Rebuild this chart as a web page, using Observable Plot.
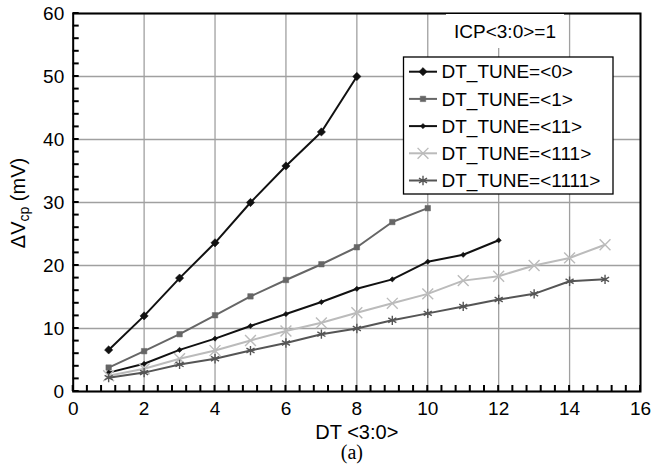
<!DOCTYPE html>
<html><head><meta charset="utf-8">
<script src="https://cdn.jsdelivr.net/npm/d3@7"></script>
<script src="https://cdn.jsdelivr.net/npm/@observablehq/plot@0.6"></script>
<style>
body{margin:0;background:#fff;}
#chart{width:652px;height:472px;}
#chart svg{font-family:'Liberation Sans', Arial, sans-serif;}
</style></head><body><div id="chart"></div>
<script>
// ---- data ----
const dtCodes = [1,2,3,4,5,6,7,8,9,10,11,12,13,14,15];
const seriesNames = ["DT_TUNE=<0>","DT_TUNE=<1>","DT_TUNE=<11>","DT_TUNE=<111>","DT_TUNE=<1111>"];
const tune0    = [6.6,12.0,18.0,23.6,30.0,35.8,41.2,50.0];
const tune1    = [3.8,6.4,9.1,12.1,15.1,17.7,20.2,22.9,26.9,29.1];
const tune11   = [3.0,4.4,6.6,8.4,10.4,12.3,14.2,16.3,17.8,20.6,21.7,24.0];
const tune111  = [2.5,3.6,5.2,6.5,8.1,9.6,10.9,12.5,14.0,15.5,17.6,18.3,20.0,21.2,23.3];
const tune1111 = [2.2,3.0,4.3,5.2,6.5,7.7,9.1,10.0,11.3,12.4,13.5,14.6,15.5,17.5,17.8];
const xTicks = [0,2,4,6,8,10,12,14,16];
const yTicks = [0,10,20,30,40,50,60];
const xMinor = d3.range(0, 41).map(i => i * 0.4);
const yMinor = d3.range(0, 31).map(i => i * 2);
const xLabel = "DT <3:0>";
const caption = "(a)";
const annot = "ICP<3:0>=1";

// ---- styles ----
const styles = [
  {color:"#111", symbol:"square", rotate:45, r:3.3, fill:true},
  {color:"#666", symbol:"square", rotate:0,  r:3.1, fill:true},
  {color:"#111", symbol:"square", rotate:45, r:2.1, fill:true},
  {color:"#bbb", symbol:"times",  rotate:0,  r:5.0, fill:false},
  {color:"#555", symbol:"asterisk", rotate:0, r:4.4, fill:false}
];
const allSeries = [tune0, tune1, tune11, tune111, tune1111];
const table = allSeries.map((vals, s) => vals.map((v, i) => ({x: dtCodes[i], y: v, s})));

const W = 652, H = 472, mL = 72.7, mR = 12, mT = 13, mB = 81;
const font = "'Liberation Sans', Arial, sans-serif";
const tickLen = 6; // px

const marks = [
  Plot.gridX(xTicks, {stroke:"#a0a0a0", strokeOpacity:1, strokeWidth:1.3}),
  Plot.gridY(yTicks, {stroke:"#a0a0a0", strokeOpacity:1, strokeWidth:1.3}),
  Plot.frame({stroke:"#000", strokeWidth:2}),
];
table.forEach((rows, s) => {
  const st = styles[s];
  marks.push(Plot.line(rows, {x:"x", y:"y", stroke: st.color, strokeWidth: 2}));
  marks.push(Plot.dot(rows, {x:"x", y:"y", symbol: st.symbol, r: st.r, rotate: st.rotate,
    fill: st.fill ? st.color : "none", stroke: st.color, strokeWidth: st.fill ? 0.5 : 1.4}));
});
marks.push(
  Plot.axisX(xTicks, {tickSize:0, tickPadding:10, fontSize:19, label:null, fill:"#000"}),
  Plot.axisY(yTicks, {tickSize:0, tickPadding:9, fontSize:19, label:null, fill:"#000"}),
  Plot.text([xLabel], {text: d => d, frameAnchor:"bottom", dy:47, fontSize:20, fill:"#000", fontFamily: font}),
  Plot.text([caption], {text: d => d, frameAnchor:"bottom", dy:67, dx:-5, fontSize:20, fontFamily:"'Liberation Serif', 'Times New Roman', serif", fill:"#000"})
);

const chart = Plot.plot({
  width: W, height: H,
  marginLeft: mL, marginRight: mR, marginTop: mT, marginBottom: mB,
  x: {domain:[0,16]},
  y: {domain:[0,60]},
  marks
});
document.getElementById("chart").appendChild(chart);
const svg = d3.select(chart);

// ---- y label with subscript ----
const yl = svg.append("text")
  .attr("transform", "translate(25,203) rotate(-90)")
  .attr("text-anchor", "middle")
  .attr("font-family", font).attr("font-size", 20).attr("fill", "#000");
yl.append("tspan").text("ΔV");
yl.append("tspan").attr("font-size", 14).attr("dy", 4).text("cp");
yl.append("tspan").attr("dy", -4).text(" (mV)");

// ---- annotation ----
const ag = svg.append("g");
ag.append("rect").attr("x", 446).attr("y", 14).attr("width", 118).attr("height", 34).attr("fill", "#fff");
ag.append("text").attr("x", 505).attr("y", 31.5).attr("dy", "0.35em")
  .attr("text-anchor", "middle").attr("font-family", font).attr("font-size", 19).attr("fill", "#000").text(annot);

// ---- legend ----
const lg = svg.append("g");
lg.append("rect").attr("x", 403.5).attr("y", 57).attr("width", 209.5).attr("height", 137)
  .attr("fill", "#fff").attr("stroke", "#000").attr("stroke-width", 1.3);
const symMap = {square: d3.symbolSquare, times: d3.symbolTimes, asterisk: d3.symbolAsterisk};
seriesNames.forEach((name, s) => {
  const st = styles[s];
  const cy = 71.7 + s * 27.2;
  lg.append("line").attr("x1", 409).attr("x2", 437).attr("y1", cy).attr("y2", cy)
    .attr("stroke", st.color).attr("stroke-width", 2);
  lg.append("path")
    .attr("d", d3.symbol(symMap[st.symbol], Math.PI * st.r * st.r)())
    .attr("transform", `translate(423,${cy}) rotate(${st.rotate})`)
    .attr("fill", st.fill ? st.color : "none").attr("stroke", st.color)
    .attr("stroke-width", st.fill ? 0.5 : 1.4);
  lg.append("text").attr("x", 441.5).attr("y", cy).attr("dy", "0.35em")
    .attr("text-anchor", "start")
    .attr("font-family", font).attr("font-size", 19).attr("fill", "#000").text(name);
});

// ---- inward minor ticks, positioned via Plot's scales (drawn last) ----
const sx = chart.scale("x"), sy = chart.scale("y");
const py0 = sy.apply(0), px0 = sx.apply(0);
const tg = svg.append("g").attr("stroke", "black").attr("stroke-width", 2).attr("fill", "none");
xMinor.forEach(v => {
  const px = sx.apply(v);
  tg.append("path").attr("d", `M${px},${py0}V${py0 - tickLen}`);
});
yMinor.forEach(v => {
  const py = sy.apply(v);
  tg.append("path").attr("d", `M${px0},${py}H${px0 + tickLen}`);
});
</script></body></html>
